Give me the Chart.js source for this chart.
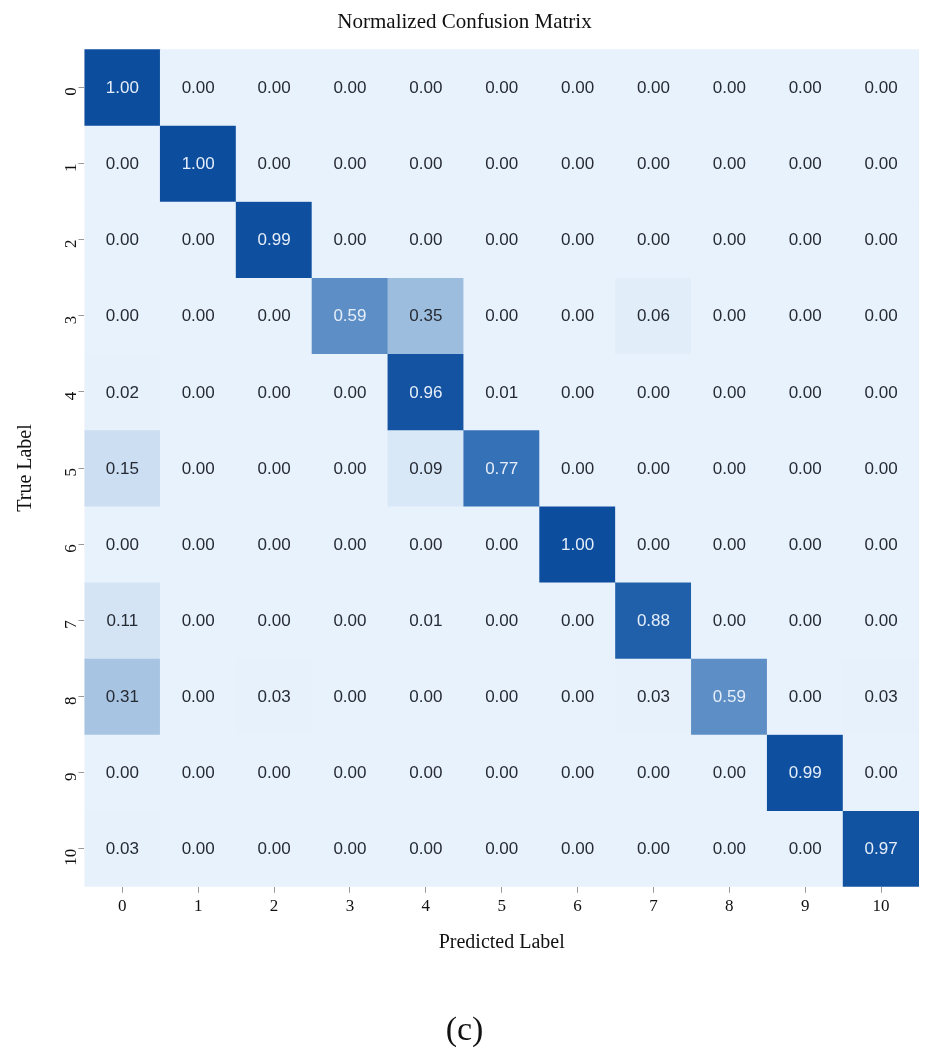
<!DOCTYPE html>
<html>
<head>
<meta charset="utf-8">
<script src="https://cdn.jsdelivr.net/npm/chart.js@4.4.0/dist/chart.umd.min.js"></script>
<style>
  html, body { margin: 0; padding: 0; background: #fff; }
  #wrap { width: 927px; height: 1057px; }
</style>
</head>
<body>
<div id="wrap"><canvas id="cm"></canvas></div>
<script>
    // labels
    var predLabels = ['0', '1', '2', '3', '4', '5', '6', '7', '8', '9', '10'];
    var trueLabels = ['0', '1', '2', '3', '4', '5', '6', '7', '8', '9', '10'];

    // one row per true label
    var row0  = [1.00, 0.00, 0.00, 0.00, 0.00, 0.00, 0.00, 0.00, 0.00, 0.00, 0.00];
    var row1  = [0.00, 1.00, 0.00, 0.00, 0.00, 0.00, 0.00, 0.00, 0.00, 0.00, 0.00];
    var row2  = [0.00, 0.00, 0.99, 0.00, 0.00, 0.00, 0.00, 0.00, 0.00, 0.00, 0.00];
    var row3  = [0.00, 0.00, 0.00, 0.59, 0.35, 0.00, 0.00, 0.06, 0.00, 0.00, 0.00];
    var row4  = [0.02, 0.00, 0.00, 0.00, 0.96, 0.01, 0.00, 0.00, 0.00, 0.00, 0.00];
    var row5  = [0.15, 0.00, 0.00, 0.00, 0.09, 0.77, 0.00, 0.00, 0.00, 0.00, 0.00];
    var row6  = [0.00, 0.00, 0.00, 0.00, 0.00, 0.00, 1.00, 0.00, 0.00, 0.00, 0.00];
    var row7  = [0.11, 0.00, 0.00, 0.00, 0.01, 0.00, 0.00, 0.88, 0.00, 0.00, 0.00];
    var row8  = [0.31, 0.00, 0.03, 0.00, 0.00, 0.00, 0.00, 0.03, 0.59, 0.00, 0.03];
    var row9  = [0.00, 0.00, 0.00, 0.00, 0.00, 0.00, 0.00, 0.00, 0.00, 0.99, 0.00];
    var row10 = [0.03, 0.00, 0.00, 0.00, 0.00, 0.00, 0.00, 0.00, 0.00, 0.00, 0.97];
    var rows = [row0, row1, row2, row3, row4, row5, row6, row7, row8, row9, row10];

    // blues colour ramp
    var stops = [
        [0.00, [232, 242, 252]],
        [0.04, [230, 240, 251]],
        [0.10, [214, 230, 246]],
        [0.30, [170, 198, 228]],
        [0.60, [ 90, 141, 197]],
        [0.80, [ 46, 108, 180]],
        [1.00, [ 12,  77, 158]]
    ];
    function blue(v) {
        for (var i = 1; i < stops.length; i++) {
            if (v <= stops[i][0]) {
                var a = stops[i - 1], b = stops[i];
                var t = (v - a[0]) / (b[0] - a[0]);
                var c = a[1].map(function (x, k) { return Math.round(x + (b[1][k] - x) * t); });
                return 'rgb(' + c.join(',') + ')';
            }
        }
        return 'rgb(12,77,158)';
    }

    var datasets = rows.map(function (r, i) {
        return {
            label: 'True ' + trueLabels[i],
            data: r.map(function () { return [i - 0.5, i + 0.5]; }),
            backgroundColor: r.map(blue),
            borderWidth: 0,
            grouped: false,
            categoryPercentage: 1,
            barPercentage: 1
        };
    });

    // write the value in each cell
    var cellText = {
        id: 'cellText',
        afterDatasetsDraw: function (chart) {
            var ctx = chart.ctx;
            var xs = chart.scales.x, ys = chart.scales.y;
            ctx.save();
            ctx.font = '17px "Liberation Sans", Arial, sans-serif';
            ctx.textAlign = 'center';
            ctx.textBaseline = 'middle';
            rows.forEach(function (r, i) {
                r.forEach(function (v, j) {
                    ctx.fillStyle = v > 0.5 ? '#e6eefa' : '#262a33';
                    ctx.fillText(v.toFixed(2), xs.getPixelForValue(j), ys.getPixelForValue(i) + 1);
                });
            });
            ctx.restore();
        }
    };

    var serif = '"Liberation Serif", "Times New Roman", serif';

    var cm = new Chart(document.getElementById('cm').getContext('2d'), {
        type: 'bar',
        data: {
            labels: predLabels,
            datasets: datasets
        },
        options: {
            responsive: true,
            maintainAspectRatio: false,
            animation: false,
            layout: { padding: { left: 10, right: 8, top: 2, bottom: 6 } },
            plugins: {
                legend: { display: false },
                tooltip: { enabled: false },
                title: {
                    display: true,
                    text: 'Normalized Confusion Matrix',
                    color: '#111',
                    font: { family: serif, size: 21, weight: 'normal' },
                    padding: { top: 8, bottom: 14 }
                },
                subtitle: {
                    display: true,
                    position: 'bottom',
                    text: '(c)',
                    color: '#111',
                    font: { family: serif, size: 34, weight: 'normal' },
                    padding: { top: 51, bottom: 0 }
                }
            },
            scales: {
                x: {
                    type: 'category',
                    offset: true,
                    grid: { display: true, drawOnChartArea: false, offset: false, tickLength: 6, color: '#999' },
                    border: { display: false },
                    ticks: { color: '#111', font: { family: serif, size: 17 }, padding: 4, maxRotation: 0 },
                    title: {
                        display: true,
                        text: 'Predicted Label',
                        color: '#111',
                        font: { family: serif, size: 20 },
                        padding: { top: 10 }
                    }
                },
                y: {
                    type: 'linear',
                    reverse: true,
                    min: -0.5,
                    max: 10.5,
                    afterBuildTicks: function (s) {
                        s.ticks = trueLabels.map(function (l, i) { return { value: i }; });
                    },
                    grid: { display: true, drawOnChartArea: false, tickLength: 6, color: '#999' },
                    border: { display: false },
                    ticks: {
                        color: '#111',
                        font: { family: serif, size: 17 },
                        minRotation: 90,
                        maxRotation: 90,
                        padding: 7,
                        callback: function (v) { return trueLabels[v]; }
                    },
                    title: {
                        display: true,
                        text: 'True Label',
                        color: '#111',
                        font: { family: serif, size: 20 },
                        padding: { bottom: 6 }
                    }
                }
            }
        },
        plugins: [cellText]
    });
</script>
</body>
</html>
